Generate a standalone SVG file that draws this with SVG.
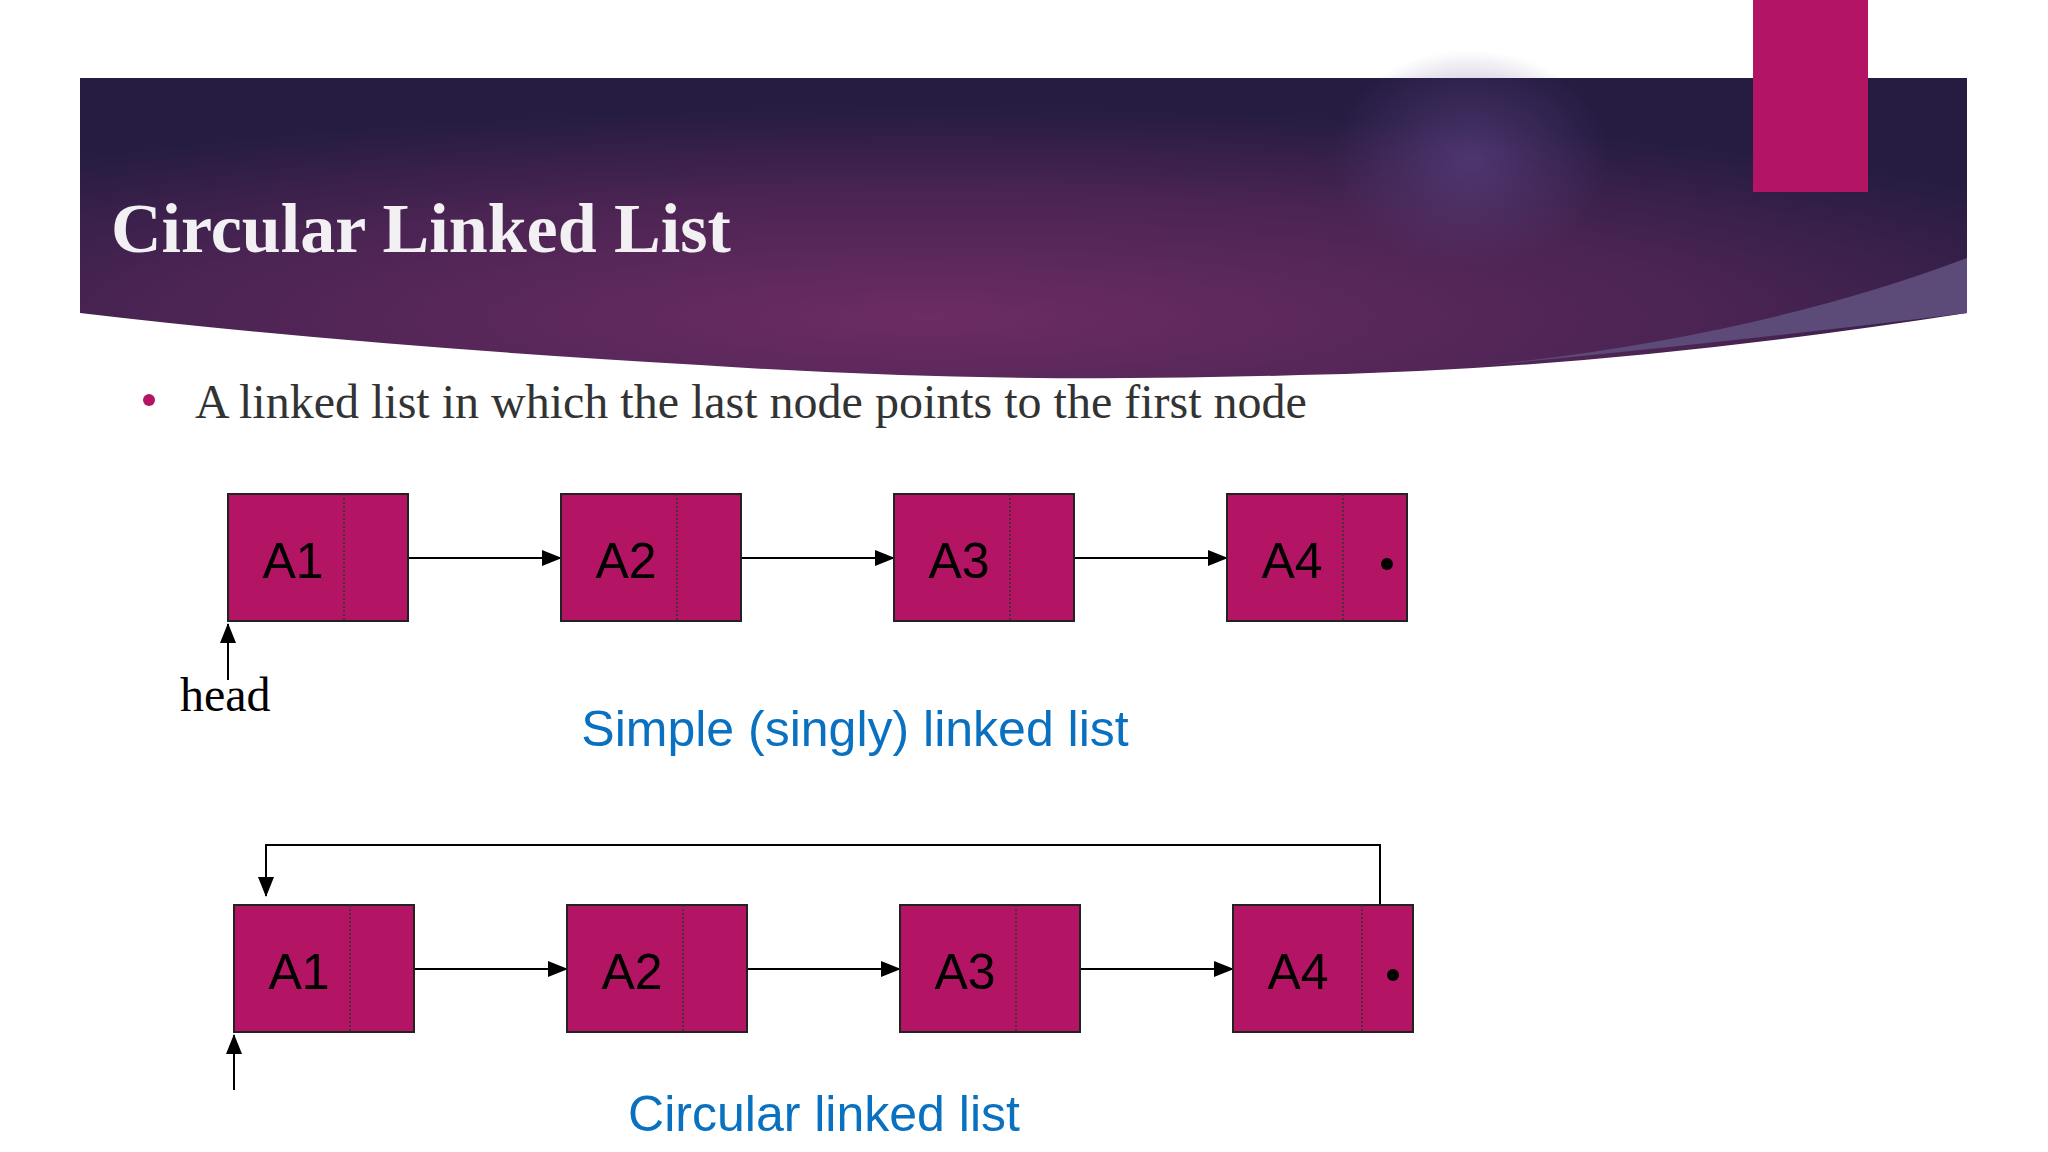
<svg xmlns="http://www.w3.org/2000/svg" width="2048" height="1152" viewBox="0 0 2048 1152">
<defs>
<radialGradient id="hg" cx="0.45" cy="0.8" r="0.7">
<stop offset="0" stop-color="#6c2c64"/><stop offset="0.6" stop-color="#4a2452"/><stop offset="1" stop-color="#261c42"/>
</radialGradient>
<radialGradient id="glow" cx="0.5" cy="0.5" r="0.5"><stop offset="0" stop-color="#5a3f80" stop-opacity="0.7"/><stop offset="1" stop-color="#5a3f80" stop-opacity="0"/></radialGradient>
<marker id="ah" markerWidth="10" markerHeight="10" refX="9" refY="5" orient="auto" markerUnits="userSpaceOnUse" viewBox="0 0 10 10"><path d="M0,0 L10,5 L0,10 z" fill="#000"/></marker>
<marker id="ahb" markerWidth="20" markerHeight="20" refX="19" refY="10" orient="auto" markerUnits="userSpaceOnUse" viewBox="0 0 20 20"><path d="M0,2 L20,10 L0,18 z" fill="#000"/></marker>
<style>
.box{fill:#b31463;stroke:#222;stroke-width:2}
.div{stroke:#333;stroke-width:1.5;stroke-dasharray:2 2}
.lbl{font-family:"Liberation Sans",Arial,sans-serif;font-size:50px;fill:#000;text-anchor:middle}
.ln{stroke:#000;stroke-width:2;fill:none}
.cap{font-family:"Liberation Sans",Arial,sans-serif;font-size:50px;fill:#0a70c0;text-anchor:middle}
</style>
</defs>
<rect width="2048" height="1152" fill="#fff"/>
<path d="M80,78 H1967 V313 Q1600,370 1300,375 Q1000,385 700,365 Q350,345 80,313 Z" fill="url(#hg)"/>
<ellipse cx="1470" cy="160" rx="140" ry="110" fill="url(#glow)"/>
<path d="M1967,258 Q1750,340 1460,368 Q1750,340 1967,313 Z" fill="#5c4a78"/>
<rect x="1753" y="0" width="115" height="192" fill="#b31463"/>
<text x="111" y="252" font-family="Liberation Serif,serif" font-weight="bold" font-size="70" fill="#f2f0f2">Circular Linked List</text>
<circle cx="149" cy="400" r="6" fill="#b31463"/>
<text x="195" y="418" font-family="Liberation Serif,serif" font-size="48" fill="#333">A linked list in which the last node points to the first node</text>

<g id="connectors">
<line class="ln" x1="383" y1="558" x2="561" y2="558" marker-end="url(#ahb)"/>
<line class="ln" x1="716" y1="558" x2="894" y2="558" marker-end="url(#ahb)"/>
<line class="ln" x1="1049" y1="558" x2="1227" y2="558" marker-end="url(#ahb)"/>
<line class="ln" x1="228" y1="680" x2="228" y2="624" marker-end="url(#ahb)"/>
<line class="ln" x1="389" y1="969" x2="567" y2="969" marker-end="url(#ahb)"/>
<line class="ln" x1="722" y1="969" x2="900" y2="969" marker-end="url(#ahb)"/>
<line class="ln" x1="1055" y1="969" x2="1233" y2="969" marker-end="url(#ahb)"/>
<path class="ln" d="M1380,905 V845 H266 V896" marker-end="url(#ahb)"/>
<line class="ln" x1="234" y1="1090" x2="234" y2="1035" marker-end="url(#ahb)"/>
</g>

<g id="r1a1"><rect class="box" x="228" y="494" width="180" height="127"/><line class="div" x1="344" y1="494" x2="344" y2="621"/><text class="lbl" x="293" y="578">A1</text></g>
<g id="r1a2"><rect class="box" x="561" y="494" width="180" height="127"/><line class="div" x1="677" y1="494" x2="677" y2="621"/><text class="lbl" x="626" y="578">A2</text></g>
<g id="r1a3"><rect class="box" x="894" y="494" width="180" height="127"/><line class="div" x1="1010" y1="494" x2="1010" y2="621"/><text class="lbl" x="959" y="578">A3</text></g>
<g id="r1a4"><rect class="box" x="1227" y="494" width="180" height="127"/><line class="div" x1="1343" y1="494" x2="1343" y2="621"/><text class="lbl" x="1292" y="578">A4</text><circle cx="1387" cy="564" r="6" fill="#000"/></g>
<g id="head"><text x="180" y="711" font-family="Liberation Serif,serif" font-size="48" fill="#000">head</text></g>
<g id="cap1"><text class="cap" x="855" y="746">Simple (singly) linked list</text></g>

<g id="r2a1"><rect class="box" x="234" y="905" width="180" height="127"/><line class="div" x1="350" y1="905" x2="350" y2="1032"/><text class="lbl" x="299" y="989">A1</text></g>
<g id="r2a2"><rect class="box" x="567" y="905" width="180" height="127"/><line class="div" x1="683" y1="905" x2="683" y2="1032"/><text class="lbl" x="632" y="989">A2</text></g>
<g id="r2a3"><rect class="box" x="900" y="905" width="180" height="127"/><line class="div" x1="1016" y1="905" x2="1016" y2="1032"/><text class="lbl" x="965" y="989">A3</text></g>
<g id="r2a4"><rect class="box" x="1233" y="905" width="180" height="127"/><line class="div" x1="1362" y1="905" x2="1362" y2="1032"/><text class="lbl" x="1298" y="989">A4</text><circle cx="1393" cy="975" r="6" fill="#000"/></g>
<g id="cap2"><text class="cap" x="824" y="1131">Circular linked list</text></g>
</svg>
